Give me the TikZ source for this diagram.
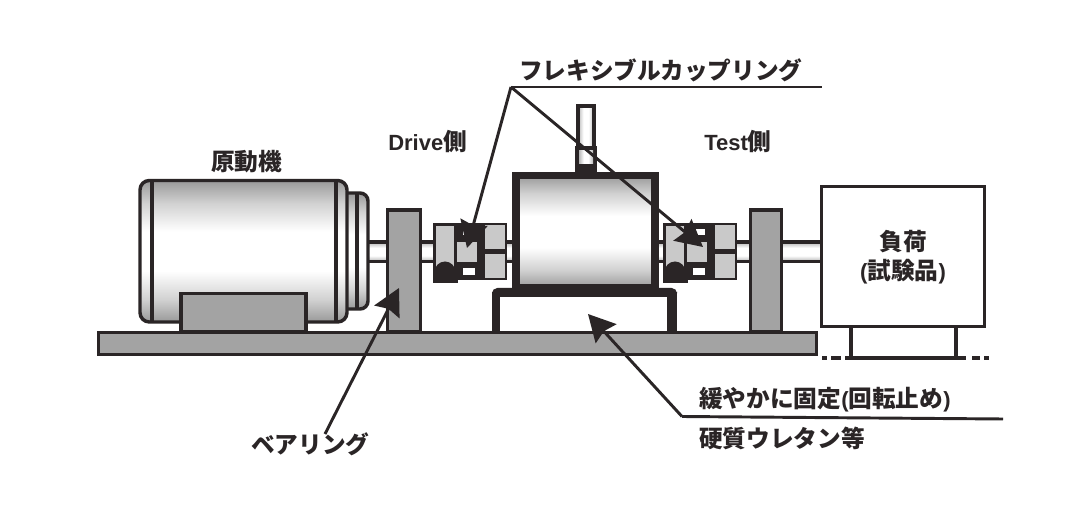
\documentclass[tikz,border=0pt]{standalone}
\usepackage{fontspec}
\setmainfont{Noto Sans CJK JP}
\newfontfamily\latinfont[Scale=0.93]{Liberation Sans}
\usetikzlibrary{arrows.meta}
\definecolor{ink}{HTML}{2A2526}
\definecolor{steel}{HTML}{A3A3A3}
\definecolor{hub}{HTML}{C9C9C9}
\pgfdeclareverticalshading{barrel}{100bp}{
  color(0bp)=(white!60!black);color(25bp)=(white!60!black);color(33bp)=(white!82!black);color(43bp)=(white);color(57bp)=(white);color(67bp)=(white!82!black);color(75bp)=(white!60!black);color(100bp)=(white!60!black)}
\pgfdeclareverticalshading{rod}{100bp}{
  color(0bp)=(white!70!black);color(25bp)=(white!70!black);color(40bp)=(white);color(60bp)=(white);color(75bp)=(white!70!black);color(100bp)=(white!70!black)}
\pgfdeclarehorizontalshading{rodh}{100bp}{
  color(0bp)=(white!72!black);color(25bp)=(white!72!black);color(42bp)=(white);color(58bp)=(white);color(75bp)=(white!72!black);color(100bp)=(white!72!black)}
\tikzset{
  line/.style={draw=ink,line width=2.6pt,line join=miter},
  plate/.style={line,fill=steel,outer sep=0pt,inner sep=0pt,anchor=north west},
  barrelfill/.style={line,shading=barrel},
  rodfill/.style={line,shading=rod},
  hubcell/.style={fill=hub,draw=none},
  inkfill/.style={fill=ink,draw=none},
  label/.style={inner sep=0pt,anchor=west,text=ink,font=\fontsize{17.75pt}{20pt}\selectfont\bfseries},
  clabel/.style={label,anchor=center},
  leader/.style={draw=ink,line width=2.2pt},
  pointer/.style={leader,-{Stealth[length=20pt,width=21pt,inset=2.5pt]}},
}
\newcommand{\couplingunit}[1]{
\begin{scope}[xshift=#1*0.75pt]
  \path[inkfill] (433,223) rectangle (507,280);
  \path[inkfill] (433,270) rectangle (458,283);
  \path[hubcell] (436,226) rectangle (454,271);
  \path[hubcell] (457,242) rectangle (477,262);
  \path[hubcell] (485,225) rectangle (505,249);
  \path[hubcell] (485,254) rectangle (505,278);
  \path[fill=white] (463,268) rectangle (475,275);
  \path[fill=white] (463,229) rectangle (475,235);
  \path[inkfill] (445,272) circle (10.5);
\end{scope}}
\begin{document}
\begin{tikzpicture}[x=0.75pt,y=-0.75pt]
\useasboundingbox (0,0) rectangle (1079,520);
\fill[white] (0,0) rectangle (1079,520);

% base and stands
\node[plate,minimum width=718*0.75pt,minimum height=22*0.75pt] (base) at (98.5,332.5) {};

% shafts
\path[rodfill] (366,242) rectangle (435,261.5);
\path[rodfill] (505,242) rectangle (665,261.5);
\path[rodfill] (735,242) rectangle (822,261.5);

% motor
\path[line,shading=barrel,rounded corners=6] (330,193) rectangle (368,309);
\draw[line] (357,193) -- (357,309);
\path[barrelfill,rounded corners=7] (140,180.5) rectangle (347,322);
\draw[line] (152,180.5) -- (152,322);
\draw[line] (336,180.5) -- (336,322);
\node[plate,minimum width=125*0.75pt,minimum height=38*0.75pt] (foot) at (181,293.5) {};

% bearings
\node[plate,minimum width=33*0.75pt,minimum height=122*0.75pt] (brgL) at (387.5,210) {};
\node[plate,minimum width=31*0.75pt,minimum height=122*0.75pt] (brgR) at (750.5,210) {};

% couplings
\couplingunit{0}
\couplingunit{230}

% test drive stand
\path[inkfill,rounded corners=4] (492,288) rectangle (677,297);
\path[inkfill] (492,292) rectangle (500,331);
\path[inkfill] (667,292) rectangle (677,331);

% test drive: body
\path[shading=rodh] (578,106) rectangle (594,150);
\draw[line] (578,147) -- (578,106) -- (594,106) -- (594,147);
\path[inkfill] (575,146) rectangle (597,174);
\path[shading=rodh] (579,151) rectangle (593,164);
\path[shading=barrel,draw=ink,line width=5.6pt] (516,175.5) rectangle (655,288);

% load
\node[draw=ink,line width=2.6pt,fill=white,minimum width=163*0.75pt,minimum height=140*0.75pt,anchor=north west,inner sep=0pt,outer sep=0pt] (load) at (821.5,186.5) {};
\draw[line] (851,327) -- (851,358) -- (956,358) -- (956,327);
\draw[line] (956,358) -- (966,358) (972,358) -- (980,358) (984,358) -- (989,358);
\draw[line] (822,358) -- (827,358) (831,358) -- (841,358) (845,358) -- (851,358);

% labels
\node[label] (flex) at (519,70) {フレキシブルカップリング};
\node[label] (drive) at (388,141) {{\latinfont Drive}側};
\node[label] (test) at (704,141) {{\latinfont Test}側};
\node[label] (motor) at (211,162) {原動機};
\node[clabel] (loadA) at (903,242) {負荷};
\node[clabel] (loadB) at (903,272) {{\latinfont (}試験品{\latinfont )}};
\node[label] (bearing) at (251,444) {ベアリング};
\node[label] (fix) at (699,400) {緩やかに固定{\latinfont (}回転止め{\latinfont )}};
\node[label] (urethane) at (699,438) {硬質ウレタン等};

% leaders
\coordinate (hub) at (511,87);
\coordinate (flexend) at (822,87);
\coordinate (tipA) at (467,248);
\coordinate (tipB) at (703,247);
\coordinate (brgFrom) at (325,434);
\coordinate (brgTip) at (399,288);
\coordinate (fixFrom) at (682,416.5);
\coordinate (fixEnd) at (1003,419);
\coordinate (fixTip) at (588,314);
\draw[leader] (hub) -- (flexend);
\draw[pointer] (hub) -- (tipA);
\draw[pointer] (hub) -- (tipB);
\draw[pointer] (brgFrom) -- (brgTip);
\draw[leader] (fixFrom) -- (fixEnd);
\draw[pointer] (fixFrom) -- (fixTip);
\end{tikzpicture}
\end{document}
